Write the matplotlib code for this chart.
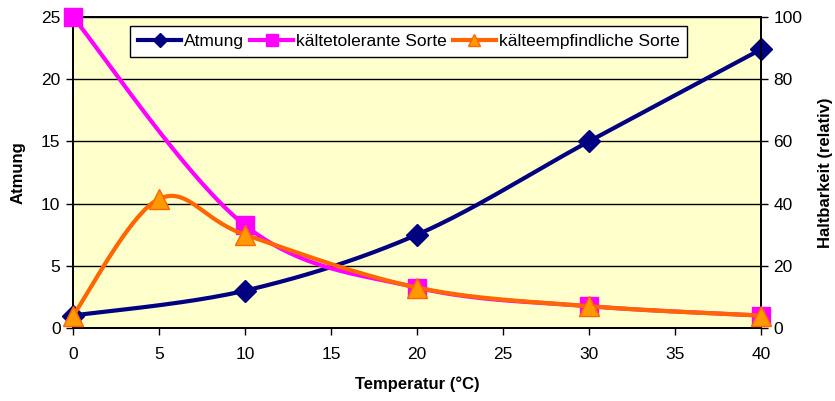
import numpy as np
import matplotlib
matplotlib.use("Agg")
import matplotlib.pyplot as plt
from matplotlib.lines import Line2D

plt.rcParams['font.family'] = ['Liberation Sans', 'DejaVu Sans']

# Data
temp_atm = [0, 10, 20, 30, 40]
atmung = [1.0, 3.0, 7.5, 15.0, 22.4]

temp_tol = [0, 10, 20, 30, 40]
tolerant = [100, 33, 13, 7, 4]

temp_emp = [0, 5, 10, 20, 30, 40]
empfindlich = [4, 41.5, 30, 13, 7, 4]

xticks = [0, 5, 10, 15, 20, 25, 30, 35, 40]
yticks_left = [0, 5, 10, 15, 20, 25]
yticks_right = [0, 20, 40, 60, 80, 100]


def smooth(xs, ys, n=40):
    """Excel-style smoothed line (cubic Bezier with Catmull-Rom control points)."""
    P = np.column_stack([xs, ys]).astype(float)
    out = []
    m = len(P)
    t = np.linspace(0, 1, n)
    for i in range(m - 1):
        p0 = P[i - 1] if i > 0 else P[i]
        p1 = P[i]
        p2 = P[i + 1]
        p3 = P[i + 2] if i + 2 < m else P[i + 1]
        c1 = p1 + (p2 - p0) / 6.0
        c2 = p2 - (p3 - p1) / 6.0
        seg = ((1 - t) ** 3)[:, None] * p1 + (3 * (1 - t) ** 2 * t)[:, None] * c1 \
            + (3 * (1 - t) * t ** 2)[:, None] * c2 + (t ** 3)[:, None] * p2
        out.append(seg if i == 0 else seg[1:])
    s = np.vstack(out)
    return s[:, 0], s[:, 1]


fig = plt.figure(figsize=(8.35, 4.01), dpi=100)
ax = fig.add_axes([73 / 835, 1 - 328 / 401, (761 - 73) / 835, (328 - 17) / 401])
ax.set_facecolor('#FFFFCC')
ax2 = ax.twinx()

navy = '#000080'
magenta = '#FF00FF'
orange = '#FF6600'
orange_fill = '#FF9900'

sx, sy = smooth(temp_atm, atmung)
ax.plot(sx, sy, color=navy, lw=3, solid_capstyle='round', zorder=3, clip_on=False)
ax.plot(temp_atm, atmung, ls='none', marker='D', ms=11, color=navy, zorder=4, clip_on=False)

sx, sy = smooth(temp_tol, tolerant)
ax2.plot(sx, sy, color=magenta, lw=3, zorder=3, clip_on=False)
ax2.plot(temp_tol, tolerant, ls='none', marker='s', ms=13, color=magenta, zorder=4, clip_on=False)

sx, sy = smooth(temp_emp, empfindlich)
ax2.plot(sx, sy, color=orange, lw=3, zorder=5, clip_on=False)
ax2.plot(temp_emp, empfindlich, ls='none', marker='^', ms=15, markerfacecolor=orange_fill,
         markeredgecolor=orange, markeredgewidth=1, zorder=6, clip_on=False)

ax.set_xlim(0, 40)
ax.set_ylim(0, 25)
ax2.set_ylim(0, 100)
ax.set_xticks(xticks)
ax.set_yticks(yticks_left)
ax2.set_yticks(yticks_right)

fs = 12.5
for a in (ax, ax2):
    for sp in a.spines.values():
        sp.set_color('black')
        sp.set_linewidth(1.3)
    a.tick_params(direction='out', length=5, width=1, labelsize=fs, colors='black')
ax.tick_params(axis='x', pad=9)
ax.tick_params(axis='y', pad=4)
ax2.tick_params(axis='y', pad=4)

ax.yaxis.grid(True, color='black', lw=1)
ax.set_axisbelow(True)

ax.set_xlabel('Temperatur (°C)', fontsize=12, fontweight='bold', labelpad=10)
ax.set_ylabel('Atmung', fontsize=12, fontweight='bold', labelpad=11)
ax2.set_ylabel('Haltbarkeit (relativ)', fontsize=12, fontweight='bold', labelpad=11)

handles = [
    Line2D([], [], color=navy, lw=3, marker='D', ms=7),
    Line2D([], [], color=magenta, lw=3, marker='s', ms=8),
    Line2D([], [], color=orange, lw=3, marker='^', ms=9, markerfacecolor=orange_fill,
           markeredgecolor=orange),
]
leg = ax2.legend(handles, ['Atmung', 'kältetolerante Sorte', 'kälteempfindliche Sorte'],
                 loc='upper left', bbox_to_anchor=((130 - 73) / 688, 1 - (26 - 17) / 311),
                 ncol=3, fontsize=fs, frameon=True, fancybox=False, framealpha=1,
                 edgecolor='black', borderaxespad=0, handlelength=2.5, handletextpad=0.15,
                 columnspacing=0.35, borderpad=0.45)
leg.get_frame().set_linewidth(1)
leg.set_zorder(10)

fig.savefig('out.png', dpi=100)
